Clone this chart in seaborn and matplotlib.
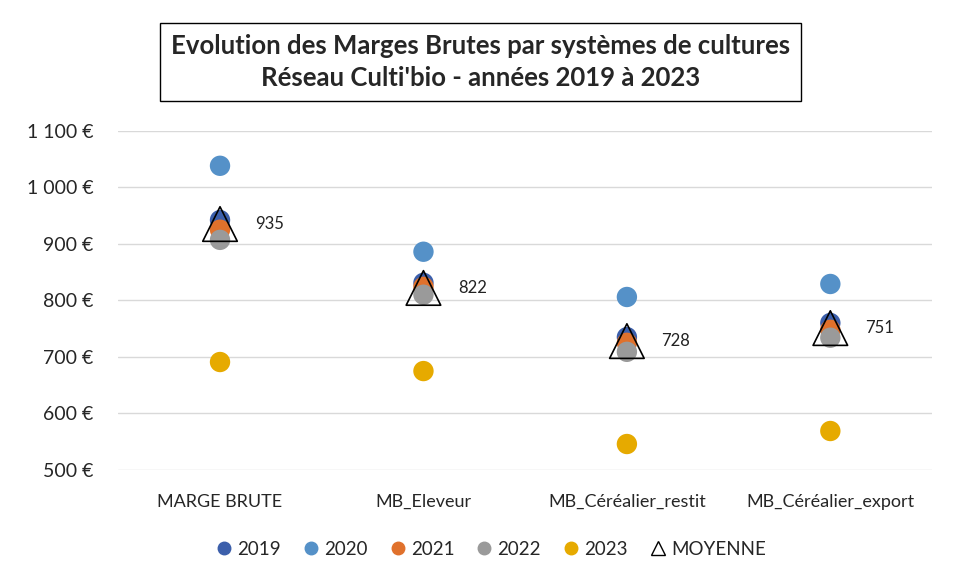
import matplotlib
matplotlib.use("Agg")
import matplotlib.pyplot as plt
import seaborn as sns
import pandas as pd
from matplotlib.lines import Line2D

categories = ["MARGE BRUTE", "MB_Eleveur", "MB_Céréalier_restit", "MB_Céréalier_export"]
years = ["2019", "2020", "2021", "2022", "2023"]
v2019 = [942, 831, 735, 760]
v2020 = [1038, 886, 806, 829]
v2021 = [925, 824, 725, 748]
v2022 = [907, 810, 709, 734]
v2023 = [691, 675, 546, 569]
moyenne = [935, 822, 728, 751]
colors = ["#3C5FAB", "#5591C8", "#E0712C", "#9A9A9A", "#E6AA00"]
yticks = [500, 600, 700, 800, 900, 1000, 1100]

rows = []
for y, vals in zip(years, [v2019, v2020, v2021, v2022, v2023]):
    for c, v in zip(categories, vals):
        rows.append({"cat": c, "year": y, "val": v})
df = pd.DataFrame(rows)
dfm = pd.DataFrame({"cat": categories, "val": moyenne})

sns.set_style("white")
plt.rcParams["font.family"] = ["Lato", "DejaVu Sans"]

fig = plt.figure(figsize=(9.54, 5.81), dpi=100)
ax = fig.add_axes([0.124, 0.191, 0.853, 0.584])

for y, col in zip(years, colors):
    sub = df[df["year"] == y]
    sns.scatterplot(data=sub, x="cat", y="val", color=col, s=215, edgecolor="none",
                    ax=ax, legend=False, zorder=3)
sns.scatterplot(data=dfm, x="cat", y="val", marker="^", s=620, facecolor="none",
                edgecolor="black", linewidth=1.2, ax=ax, legend=False, zorder=4)

for i, v in enumerate(moyenne):
    ax.annotate(f"{v}", (i, v), xytext=(25, 0), textcoords="offset points",
                va="center", ha="left", fontsize=12, color="#222222")

ax.set_xlim(-0.5, 3.5)
ax.set_ylim(500, 1100)
ax.set_yticks(yticks)
ax.set_yticklabels([f"{t:,}".replace(",", " ") + " €" for t in yticks], fontsize=14)
ax.set_xticks(range(len(categories)))
ax.set_xticklabels(categories, fontsize=13)
ax.tick_params(axis="y", length=0, pad=18)
ax.tick_params(axis="x", length=0, pad=17)
ax.set_xlabel("")
ax.set_ylabel("")
ax.grid(axis="y", color="#D9D9D9", linewidth=1)
ax.set_axisbelow(True)
for s in ax.spines.values():
    s.set_visible(False)

fig.text(0.504, 0.893, "Evolution des Marges Brutes par systèmes de cultures\nRéseau Culti'bio - années 2019 à 2023",
         ha="center", va="center", fontsize=18.5, fontweight="bold", linespacing=1.4,
         bbox=dict(boxstyle="square,pad=0.42", facecolor="white", edgecolor="black", linewidth=1))

handles = [Line2D([], [], marker="o", linestyle="none", color=c, markersize=9) for c in colors]
handles.append(Line2D([], [], marker="^", linestyle="none", markerfacecolor="none",
                      markeredgecolor="black", markersize=10))
fig.legend(handles, years + ["MOYENNE"], loc="center", bbox_to_anchor=(0.513, 0.055), ncol=6,
           frameon=False, fontsize=13.5, handletextpad=0.1, columnspacing=1.0, handlelength=1.2)

fig.savefig("out.png", dpi=100)
